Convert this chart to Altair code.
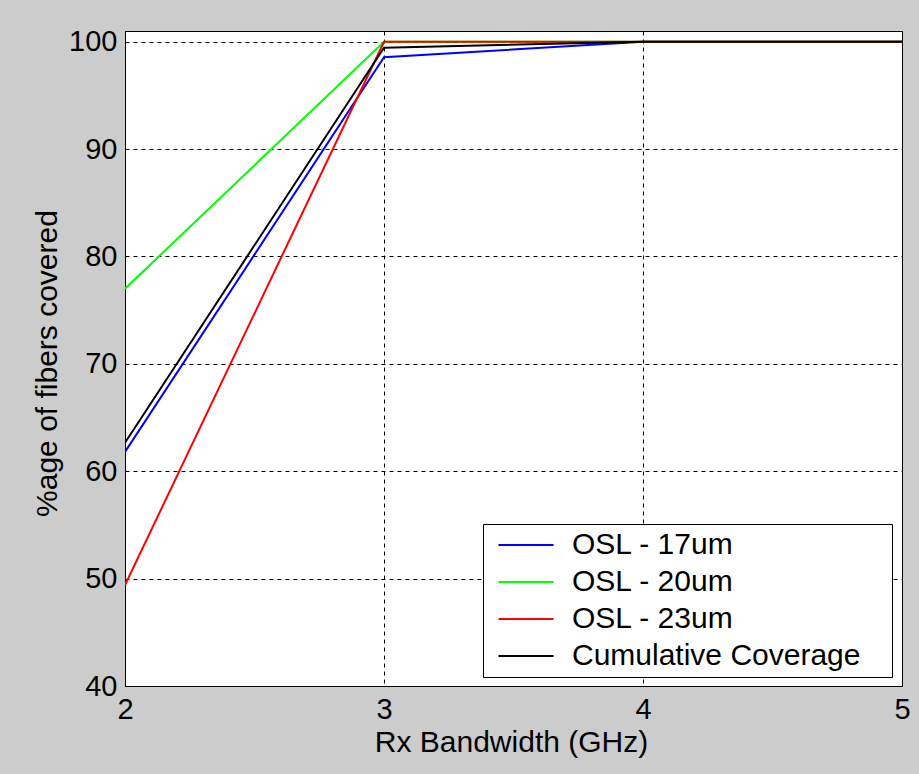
import altair as alt
import pandas as pd

series = ["OSL - 17um", "OSL - 20um", "OSL - 23um", "Cumulative Coverage"]
colors = ["#0000FF", "#00FF00", "#FF0000", "#000000"]
bandwidth = [2, 3, 4, 5]
osl17 = [61.8, 98.55, 100, 100]
osl20 = [77.0, 100, 100, 100]
osl23 = [49.4, 100, 100, 100]
cumulative = [62.65, 99.45, 100, 100]
x_ticks = [2, 3, 4, 5]
y_ticks = [40, 50, 60, 70, 80, 90, 100]

rows = []
for name, vals in zip(series, [osl17, osl20, osl23, cumulative]):
    for xv, yv in zip(bandwidth, vals):
        rows.append({"series": name, "x": xv, "y": yv})
df = pd.DataFrame(rows)

FONT = "Liberation Sans"

xaxis = alt.Axis(
    values=x_ticks, format="d", title="Rx Bandwidth (GHz)",
    labelFontSize=29, labelFont=FONT, labelColor="black", labelPadding=9,
    labelFlush=False, ticks=False, tickSize=0,
    domainColor="black", grid=True, gridColor="black", gridDash=[4, 4], gridOpacity=1,
    titleFont=FONT, titleFontSize=30, titleFontWeight="normal", titleColor="black",
    titleX=386, titleY=65.5, titleBaseline="alphabetic", titleAlign="center",
)
yaxis = alt.Axis(
    values=y_ticks, format="d", title="%age of fibers covered",
    labelFontSize=29, labelFont=FONT, labelColor="black", labelPadding=8,
    labelFlush=False, ticks=False, tickSize=0,
    domainColor="black", grid=True, gridColor="black", gridDash=[4, 4], gridOpacity=1,
    titleFont=FONT, titleFontSize=30, titleFontWeight="normal", titleColor="black",
    titleX=-69, titleY=332, titleBaseline="alphabetic", titleAlign="center", titleAngle=270,
)
# legend sample line: drawn part plus an undrawn move-to that widens the box
legend = alt.Legend(
    title=None, orient="none", legendX=358, legendY=493,
    fillColor="white", strokeColor="black", padding=6,
    labelFontSize=30, labelFont=FONT, labelColor="black", labelLimit=500,
    symbolType="M-0.46,0H4.13M31.5,0", symbolSize=576, symbolStrokeWidth=2,
    labelOffset=53, rowPadding=7,
)

base = alt.Chart(df)
layers = []
for name in series:
    layers.append(
        base.transform_filter(alt.datum.series == name)
        .mark_line(strokeWidth=2, clip=True)
        .encode(
            x=alt.X("x:Q", scale=alt.Scale(domain=[2, 5], nice=False, zero=False), axis=xaxis),
            y=alt.Y("y:Q", scale=alt.Scale(domain=[40, 101], nice=False, zero=False), axis=yaxis),
            color=alt.Color("series:N", scale=alt.Scale(domain=series, range=colors), legend=legend),
        )
    )

chart = (
    alt.layer(*layers)
    .properties(
        width=777, height=655,
        autosize=alt.AutoSizeParams(type="none"),
        padding={"left": 125, "top": 31, "right": 17, "bottom": 88},
        background="#CCCCCC",
    )
    .configure_view(fill="white", stroke="black", strokeWidth=1)
)

chart.save("out.html", embed_options={"renderer": "svg", "actions": False})
